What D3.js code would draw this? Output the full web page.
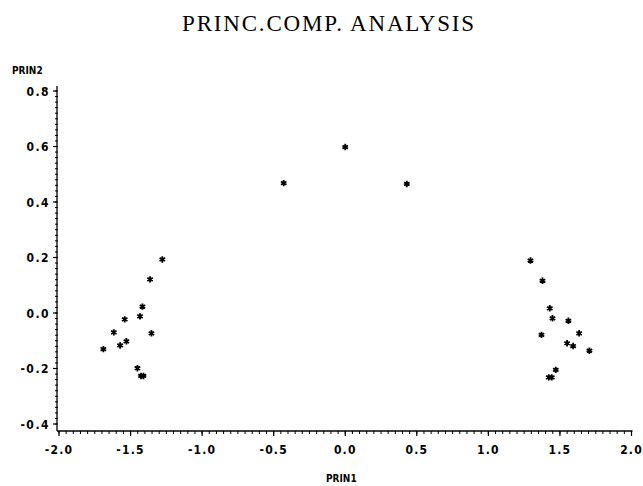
<!DOCTYPE html>
<html><head><meta charset="utf-8">
<script src="https://cdn.jsdelivr.net/npm/d3@7"></script>
<style>body{margin:0;background:#fff}svg{display:block}</style>
</head><body>
<svg id="c" width="643" height="486"></svg>
<script>
const prin1 = [0.0, -0.43, 0.43,
  -1.278, -1.364, -1.417, -1.434, -1.541, -1.354, -1.617, -1.529, -1.573, -1.69, -1.452, -1.427, -1.41,
  1.294, 1.378, 1.429, 1.448, 1.559, 1.634, 1.371, 1.55, 1.592, 1.706, 1.471, 1.422, 1.443];
const prin2 = [0.598, 0.468, 0.465,
  0.193, 0.121, 0.023, -0.012, -0.023, -0.073, -0.07, -0.102, -0.117, -0.13, -0.199, -0.227, -0.227,
  0.189, 0.116, 0.017, -0.019, -0.028, -0.073, -0.079, -0.109, -0.119, -0.136, -0.205, -0.232, -0.232];
const xTicks = [-2.0, -1.5, -1.0, -0.5, 0.0, 0.5, 1.0, 1.5, 2.0];
const yTicks = [0.8, 0.6, 0.4, 0.2, 0.0, -0.2, -0.4];
const title = "PRINC.COMP. ANALYSIS";

const svg = d3.select("#c");
const x = d3.scaleLinear().domain([-2, 2]).range([59, 631.5]);
const y = d3.scaleLinear().domain([-0.4, 0.8]).range([424, 91]);
const axisY = 431, axisX = 57;
const lab = "'DejaVu Sans Condensed', 'DejaVu Sans', sans-serif";

svg.append("text").attr("x", 329).attr("y", 31).attr("text-anchor", "middle")
  .attr("font-family", "'Liberation Serif', 'DejaVu Serif', serif").attr("font-size", 23)
  .attr("letter-spacing", 1.8).text(title);

// axis lines
svg.append("line").attr("x1", axisX).attr("x2", axisX).attr("y1", 86).attr("y2", axisY)
  .attr("stroke", "#000").attr("stroke-width", 1.3);
svg.append("line").attr("x1", axisX).attr("x2", x(2) + 1).attr("y1", axisY).attr("y2", axisY)
  .attr("stroke", "#000").attr("stroke-width", 1.3);

// minor ticks
const yMinor = d3.range(-20, 41).map(i => i * 0.02).filter(v => y(v) <= axisY && y(v) >= 86);
svg.append("g").selectAll("line").data(yMinor).join("line")
  .attr("x1", axisX - 2).attr("x2", axisX + 1).attr("y1", d => y(d)).attr("y2", d => y(d))
  .attr("stroke", "#000").attr("stroke-width", 1);
const xMinor = d3.range(-40, 41).map(i => i * 0.05);
svg.append("g").selectAll("line").data(xMinor).join("line")
  .attr("x1", d => x(d)).attr("x2", d => x(d)).attr("y1", axisY).attr("y2", axisY + 3)
  .attr("stroke", "#000").attr("stroke-width", 1);

// major ticks and labels
const yg = svg.append("g").selectAll("g").data(yTicks).join("g");
yg.append("line").attr("x1", axisX - 4).attr("x2", axisX).attr("y1", d => y(d)).attr("y2", d => y(d))
  .attr("stroke", "#000").attr("stroke-width", 1.2);
yg.append("text").attr("x", 50).attr("y", d => y(d) + 4.5).attr("text-anchor", "end")
  .attr("font-family", lab).attr("font-weight", "bold").attr("font-size", 12).attr("letter-spacing", 1.5)
  .text(d => d.toFixed(1));
const xg = svg.append("g").selectAll("g").data(xTicks).join("g");
xg.append("line").attr("x1", d => x(d)).attr("x2", d => x(d)).attr("y1", axisY).attr("y2", axisY + 5)
  .attr("stroke", "#000").attr("stroke-width", 1.2);
xg.append("text").attr("x", d => x(d)).attr("y", 454).attr("text-anchor", "middle")
  .attr("font-family", lab).attr("font-weight", "bold").attr("font-size", 12).attr("letter-spacing", 1.2)
  .text(d => d.toFixed(1));

svg.append("text").attr("x", 12).attr("y", 74).attr("font-family", lab).attr("font-weight", "bold")
  .attr("font-size", 10).text("PRIN2");
svg.append("text").attr("x", 326).attr("y", 482).attr("font-family", lab).attr("font-weight", "bold")
  .attr("font-size", 10).text("PRIN1");

// points
const pts = prin1.map((v, i) => ({x: v, y: prin2[i]}));
const sym = d3.symbol().type(d3.symbolAsterisk).size(28);
svg.append("g").selectAll("path").data(pts).join("path")
  .attr("d", sym).attr("transform", d => `translate(${x(d.x)},${y(d.y)})`)
  .attr("fill", "none").attr("stroke", "#000").attr("stroke-width", 1.8);
svg.append("g").selectAll("circle").data(pts).join("circle")
  .attr("cx", d => x(d.x)).attr("cy", d => y(d.y)).attr("r", 1.6).attr("fill", "#000");
</script>
</body></html>
